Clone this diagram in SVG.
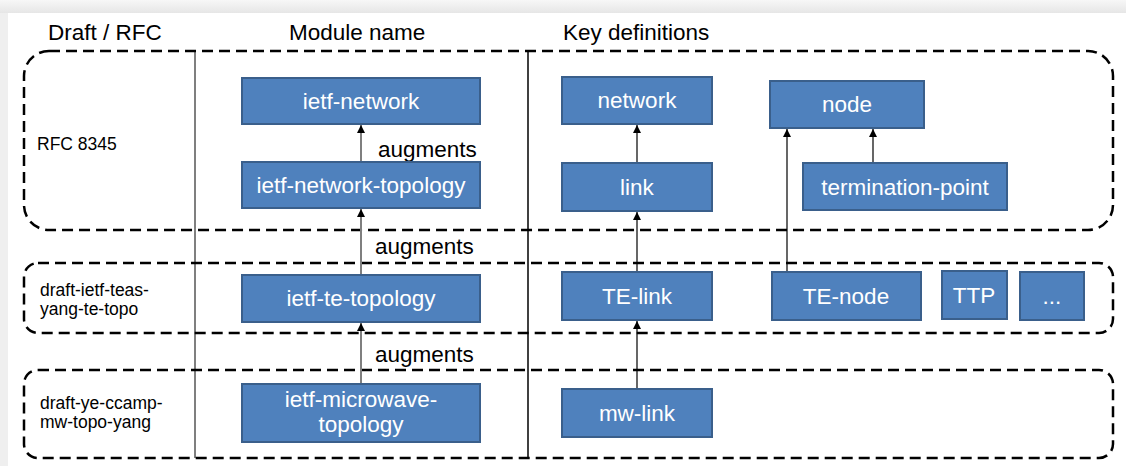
<svg xmlns="http://www.w3.org/2000/svg" width="1126" height="466" viewBox="0 0 1126 466">
  <defs>
    <linearGradient id="topg" x1="0" y1="0" x2="0" y2="1">
      <stop offset="0" stop-color="#f7f7f7"/>
      <stop offset="1" stop-color="#e6e6e6"/>
    </linearGradient>
    <marker id="ah" viewBox="0 0 8 10" refX="8" refY="5" markerWidth="8" markerHeight="10" markerUnits="userSpaceOnUse" orient="auto">
      <path d="M0,1 L8,5 L0,9 Z" fill="#000"/>
    </marker>
    <style>
      .grp { fill: none; stroke: #000; stroke-width: 2.5; stroke-dasharray: 11 6; }
      .node rect { fill: #4f81bd; stroke: #3a5f8b; stroke-width: 2; }
      .node text { fill: #fff; font-family: "Liberation Sans", Arial, sans-serif; font-size: 22.5px; text-anchor: middle; }
      .hdr { fill: #000; font-family: "Liberation Sans", Arial, sans-serif; font-size: 22.5px; }
      .lbl { fill: #000; font-family: "Liberation Sans", Arial, sans-serif; font-size: 17.5px; }
      .aug { fill: #000; font-family: "Liberation Sans", Arial, sans-serif; font-size: 22.5px; }
      .cg { stroke: #7f7f7f; stroke-width: 2; fill: none; marker-end: url(#ah); }
      .ck { stroke: #000; stroke-width: 1.2; fill: none; marker-end: url(#ah); }
    </style>
  </defs>

  <rect x="0" y="0" width="1126" height="466" fill="#efefef"/>
  <rect x="0" y="0" width="1126" height="13" fill="url(#topg)"/>
  <rect x="8" y="13" width="1118" height="453" fill="#fff"/>

  <!-- column separators -->
  <line x1="195" y1="51" x2="195" y2="458" stroke="#7f7f7f" stroke-width="2"/>
  <line x1="528" y1="51" x2="528" y2="458" stroke="#000" stroke-width="1.5"/>

  <!-- headers -->
  <text class="hdr" x="48" y="40">Draft / RFC</text>
  <text class="hdr" x="289" y="40">Module name</text>
  <text class="hdr" x="563" y="40">Key definitions</text>

  <!-- groups -->
  <g id="rfc8345">
    <rect class="grp" x="24" y="51" width="1089" height="179" rx="25" ry="25"/>
    <text class="lbl" x="37" y="150">RFC 8345</text>
  </g>
  <g id="te-topo">
    <rect class="grp" x="24" y="263" width="1089" height="70" rx="14" ry="14"/>
    <text class="lbl" x="40" y="296">draft-ietf-teas-</text>
    <text class="lbl" x="40" y="315">yang-te-topo</text>
  </g>
  <g id="mw-topo">
    <rect class="grp" x="24" y="370" width="1089" height="88" rx="14" ry="14"/>
    <text class="lbl" x="40" y="409">draft-ye-ccamp-</text>
    <text class="lbl" x="40" y="428">mw-topo-yang</text>
  </g>

  <!-- connectors -->
  <g id="connectors">
    <line class="cg" x1="361" y1="162" x2="361" y2="125"/>
    <line class="cg" x1="361" y1="275" x2="361" y2="209"/>
    <line class="cg" x1="361" y1="384" x2="361" y2="323"/>
    <line class="ck" x1="637" y1="163" x2="637" y2="125"/>
    <line class="ck" x1="637" y1="272" x2="637" y2="212"/>
    <line class="ck" x1="637" y1="389" x2="637" y2="321"/>
    <line class="ck" x1="787" y1="272" x2="787" y2="129"/>
    <line class="ck" x1="873" y1="163" x2="873" y2="129"/>
    <text class="aug" x="378" y="157">augments</text>
    <text class="aug" x="375" y="254">augments</text>
    <text class="aug" x="375" y="362">augments</text>
  </g>

  <!-- module nodes -->
  <g id="ietf-network" class="node">
    <rect x="242" y="78" width="238" height="46"/>
    <text x="361" y="109">ietf-network</text>
  </g>
  <g id="ietf-network-topology" class="node">
    <rect x="242" y="162" width="238" height="46"/>
    <text x="361" y="193">ietf-network-topology</text>
  </g>
  <g id="ietf-te-topology" class="node">
    <rect x="242" y="275" width="238" height="47"/>
    <text x="361" y="306">ietf-te-topology</text>
  </g>
  <g id="ietf-microwave-topology" class="node">
    <rect x="242" y="384" width="238" height="58"/>
    <text x="361" y="407">ietf-microwave-</text>
    <text x="361" y="432">topology</text>
  </g>

  <!-- key definition nodes -->
  <g id="network" class="node">
    <rect x="562" y="77" width="150" height="47"/>
    <text x="637" y="108">network</text>
  </g>
  <g id="link" class="node">
    <rect x="562" y="163" width="150" height="48"/>
    <text x="637" y="195">link</text>
  </g>
  <g id="node" class="node">
    <rect x="770" y="81" width="154" height="47"/>
    <text x="847" y="112">node</text>
  </g>
  <g id="termination-point" class="node">
    <rect x="803" y="163" width="204" height="47"/>
    <text x="905" y="195">termination-point</text>
  </g>
  <g id="TE-link" class="node">
    <rect x="562" y="272" width="150" height="48"/>
    <text x="637" y="304">TE-link</text>
  </g>
  <g id="TE-node" class="node">
    <rect x="772" y="272" width="149" height="48"/>
    <text x="846" y="304">TE-node</text>
  </g>
  <g id="TTP" class="node">
    <rect x="942" y="271" width="65" height="48"/>
    <text x="974" y="303">TTP</text>
  </g>
  <g id="more" class="node">
    <rect x="1020" y="272" width="64" height="48"/>
    <text x="1052" y="304">...</text>
  </g>
  <g id="mw-link" class="node">
    <rect x="562" y="389" width="150" height="48"/>
    <text x="637" y="421">mw-link</text>
  </g>
</svg>
